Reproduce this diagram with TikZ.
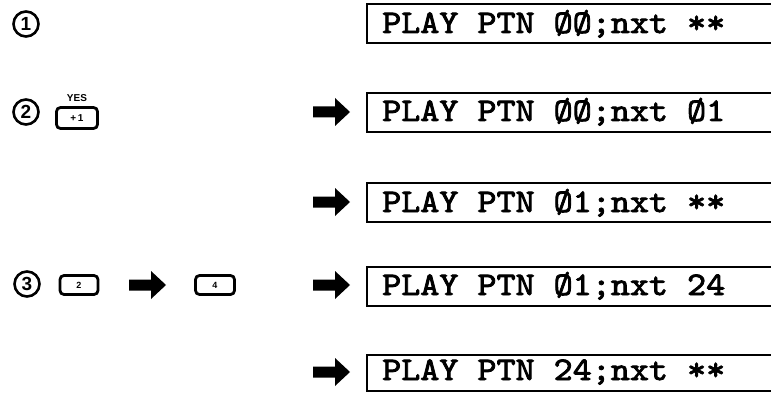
\documentclass[tikz,border=0pt]{standalone}
\usepackage{fontspec}
\newfontfamily\lcdfont{lmmono10-regular.otf}[FakeBold=2.5, FakeStretch=1.1]
\newfontfamily\keyfont{Liberation Sans}
\newcommand\blockarrow[3]{% name, x, y (left end, centre line)
  \coordinate (#1) at (#2,#3);
  \fill (#1) ++(0,-5.5) -- ++(22,0) -- ++(0,-8.5) -- ++(15,14) -- ++(-15,14)
        -- ++(0,-8.5) -- ++(-22,0) -- cycle;}
\begin{document}
\begin{tikzpicture}[x=1pt,y=-1pt,
  lcdbox/.style={draw, line width=1.8pt, minimum height=39pt, minimum width=430pt,
                 anchor=north west, inner sep=0pt},
  lcdtext/.style={anchor=base west, inner sep=0pt,
                  font=\lcdfont\fontsize{33}{34}\selectfont},
  numcirc/.style={circle, draw, line width=2.6pt, minimum size=25pt, inner sep=0pt,
                  font=\keyfont\bfseries\fontsize{19}{19}\selectfont},
  keybox/.style={draw, rounded corners=4pt, line width=2.8pt, inner sep=0pt,
                 font=\keyfont\bfseries\fontsize{9}{9}\selectfont},
  keylabel/.style={inner sep=0pt, font=\keyfont\bfseries\fontsize{10}{10}\selectfont}
]
\clip (0,0) rectangle (771,393);

% step numbers
\node[numcirc] (n1) at (26,24) {1};
\node[numcirc] (n2) at (26,112) {2};
\node[numcirc] (n3) at (27,284) {3};

% keys
\node[keybox, minimum width=41pt, minimum height=21pt, font=\keyfont\bfseries\fontsize{10}{10}\selectfont] (kyes) at (77,118) {+\,1};
\node[keylabel, anchor=south] (yes) at ([yshift=4pt]kyes.north) {YES};
\node[keybox, minimum width=38pt, minimum height=19pt] (k2) at (79,285) {2};
\node[keybox, minimum width=39pt, minimum height=19pt] (k4) at (215,285) {4};
\blockarrow{a0}{129}{285}

% display boxes
\node[lcdbox] (b1) at (366,3) {};
\node[lcdbox] (b2) at (366,92) {};
\node[lcdbox] (b3) at (366,182) {};
\node[lcdbox] (b4) at (366,266) {};
\node[lcdbox, minimum height=36pt] (b5) at (366,354) {};

\node[lcdtext] (t1) at (382,33) {PLAY PTN ØØ;nxt **};
\node[lcdtext] (t2) at (382,121) {PLAY PTN ØØ;nxt Ø1};
\node[lcdtext] (t3) at (382,212) {PLAY PTN Ø1;nxt **};
\node[lcdtext] (t4) at (382,295) {PLAY PTN Ø1;nxt 24};
\node[lcdtext] (t5) at (382,380) {PLAY PTN 24;nxt **};

% arrows to displays
\blockarrow{a2}{313}{112}
\blockarrow{a3}{313}{202}
\blockarrow{a4}{313}{285}
\blockarrow{a5}{313}{372}
\end{tikzpicture}
\end{document}
